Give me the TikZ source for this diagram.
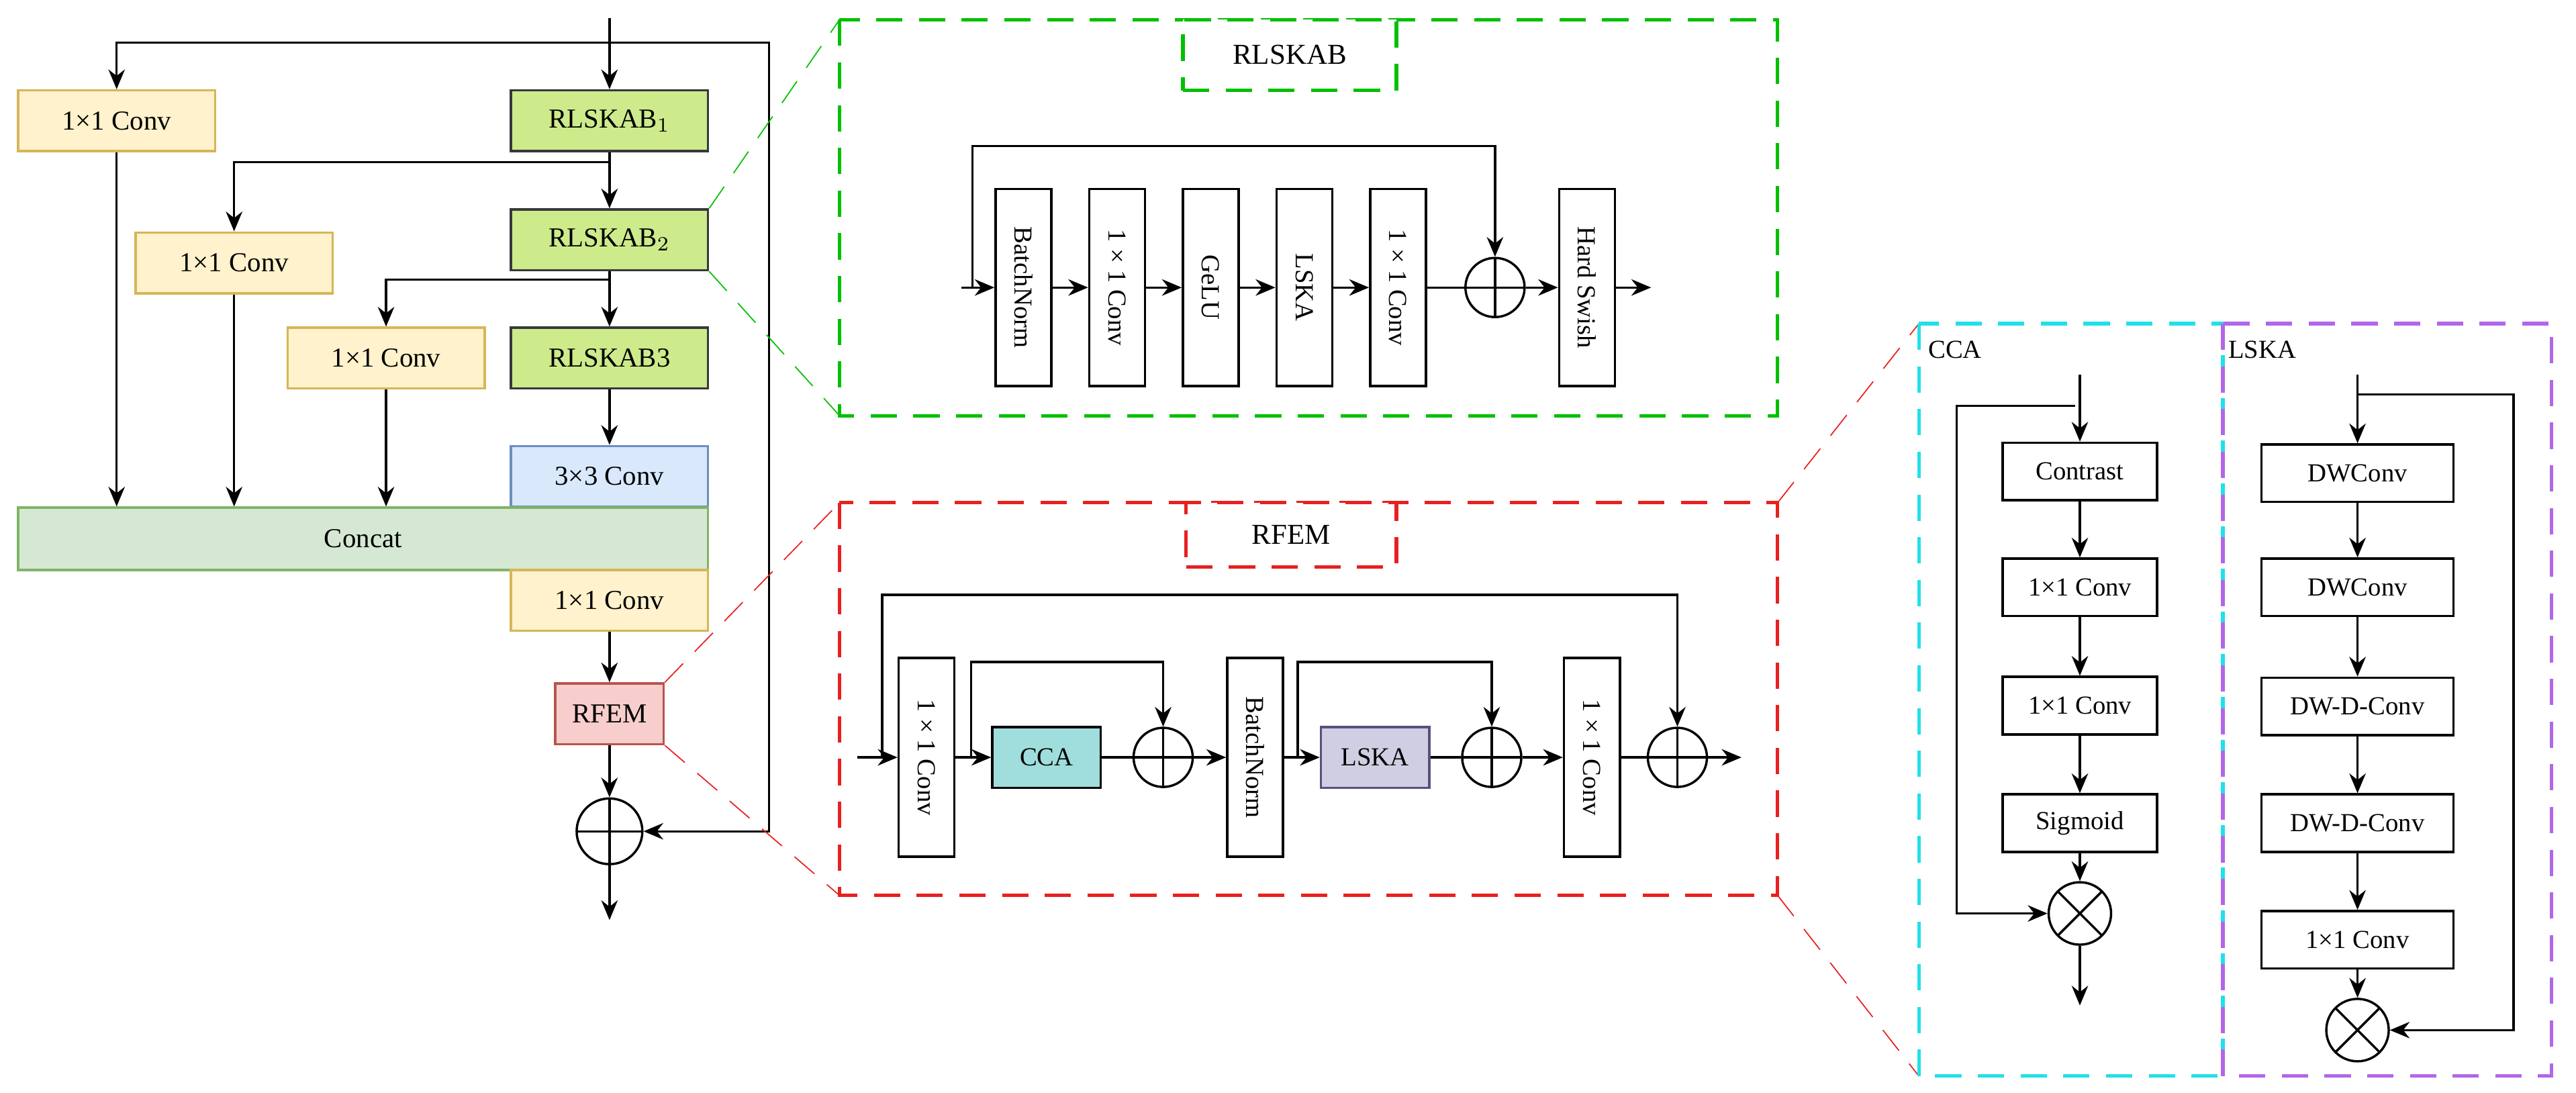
\documentclass[tikz,border=0pt]{standalone}
\usepackage{fontspec}
\setmainfont{Liberation Serif}
\usetikzlibrary{arrows.meta}
\definecolor{yfill}{HTML}{FFF2CC}\definecolor{ydraw}{HTML}{D6B656}
\definecolor{gfill}{HTML}{CDEB8B}\definecolor{gdraw}{HTML}{36393D}
\definecolor{bfill}{HTML}{DAE8FC}\definecolor{bdraw}{HTML}{6C8EBF}
\definecolor{cfill}{HTML}{D5E8D4}\definecolor{cdraw}{HTML}{82B366}
\definecolor{rfill}{HTML}{F8CECC}\definecolor{rdraw}{HTML}{B85450}
\definecolor{tfill}{HTML}{A0DDDD}\definecolor{pfill}{HTML}{D0CEE2}\definecolor{pdraw}{HTML}{56517E}
\definecolor{dgreen}{HTML}{00C000}\definecolor{dred}{HTML}{E82020}
\definecolor{dcyan}{HTML}{20E0E8}\definecolor{dpurple}{HTML}{B266E8}
\tikzset{%
  >={Stealth[width=2mm,length=2.4mm]},
  % Specifications for style of nodes:
        base/.style = {rectangle, draw=black, thick, inner sep=1pt,
                       text centered, font=\fontsize{9}{10}\selectfont},
       wide/.style = {base, minimum width=2.4cm, minimum height=0.74cm, font=\fontsize{9.5}{11}\selectfont},
     yconv/.style = {wide, fill=yfill, draw=ydraw},
    rlskab/.style = {wide, fill=gfill, draw=gdraw},
     vbox/.style = {base, minimum width=0.68cm, minimum height=2.4cm},
     vtext/.style = {rotate=-90, font=\fontsize{9}{10}\selectfont},
      cbox/.style = {base, minimum width=1.88cm, minimum height=0.7cm},
      lbox/.style = {base, minimum width=2.34cm, minimum height=0.7cm},
     addop/.style = {circle, draw, thick, minimum size=0.72cm, inner sep=0pt,
       path picture={\draw (path picture bounding box.north) -- (path picture bounding box.south)
                     (path picture bounding box.west) -- (path picture bounding box.east);}},
     mulop/.style = {circle, draw, thick, minimum size=0.76cm, inner sep=0pt,
       path picture={\draw (path picture bounding box.north west) -- (path picture bounding box.south east)
                     (path picture bounding box.south west) -- (path picture bounding box.north east);}},
     panel/.style = {very thick, dash pattern=on 0.32cm off 0.2cm},
}
\begin{document}
\begin{tikzpicture}[x=0.02cm, y=-0.02cm, thick]
\useasboundingbox (0,0) rectangle (1568,665);
% left branch
\coordinate (in) at (371,11);
\coordinate (sk) at (371,26);
\coordinate (skr) at (468,26);
\node (conva) [yconv] at (71,73.5) {1×1 Conv};
\node (rlsa) [rlskab] at (371,73.5) {RLSKAB$_1$};
\node (rlsb) [rlskab] at (371,146) {RLSKAB$_2$};
\node (convb) [yconv] at (142.5,160) {1×1 Conv};
\node (convc) [yconv] at (235,218) {1×1 Conv};
\node (rlsc) [rlskab] at (371,218) {RLSKAB3};
\node (conv33) [wide, fill=bfill, draw=bdraw] at (371,290) {3×3 Conv};
\node (concat) [base, fill=cfill, draw=cdraw, minimum width=8.4cm, minimum height=0.76cm, font=\fontsize{9.5}{11}\selectfont] at (221,328) {Concat};
\node (convd) [yconv] at (371,365.5) {1×1 Conv};
\node (rfem) [base, fill=rfill, draw=rdraw, minimum width=1.32cm, minimum height=0.74cm, font=\fontsize{9.5}{11}\selectfont] at (371,434.5) {RFEM};
\node (addm) [addop, minimum size=0.8cm] at (371,506) {};
\coordinate (out) at (371,560);
\draw[->] (in) -- (rlsa);
\draw[->] (sk) -| (conva);
\draw[->] (sk) -- (skr) |- (addm);
\draw[->] (rlsa) -- (rlsb);
\draw[->] ([yshift=-0.12cm]rlsa.south) -| (convb);
\draw[->] (rlsb) -- (rlsc);
\draw[->] ([yshift=-0.1cm]rlsb.south) -| (convc);
\draw[->] (rlsc) -- (conv33);
\draw[->] (conva) -- (conva |- concat.north);
\draw[->] (convb) -- (convb |- concat.north);
\draw[->] (convc) -- (convc |- concat.north);
\draw[->] (convd) -- (rfem);
\draw[->] (rfem) -- (addm);
\draw[->] (addm) -- (out);
% RLSKAB panel
\draw[panel, dgreen] (511,12) rectangle (1082,253);
\node (tra) [base, draw=dgreen, panel, fill=white, minimum width=2.6cm, minimum height=0.86cm, font=\fontsize{10}{12}\selectfont] at (785,33.5) {RLSKAB};
\draw[panel, dgreen, thin] (rlsb.north east) -- (511,12) (rlsb.south east) -- (511,253);
\coordinate (ra) at (585,175);
\coordinate (rs) at (592,175);
\node (bn) [vbox] at (623,175) {}; \node[vtext] at (bn) {BatchNorm};
\node (ca) [vbox] at (680,175) {}; \node[vtext] at (ca) {1 × 1 Conv};
\node (ge) [vbox] at (737,175) {}; \node[vtext] at (ge) {GeLU};
\node (ls) [vbox] at (794,175) {}; \node[vtext] at (ls) {LSKA};
\node (cb) [vbox] at (851,175) {}; \node[vtext] at (cb) {1 × 1 Conv};
\node (ra1) [addop] at (910,175) {};
\node (hs) [vbox] at (966,175) {}; \node[vtext] at (hs) {Hard Swish};
\coordinate (rout) at (1005,175);
\draw[->] (ra) -- (bn);
\draw[->] (bn) -- (ca);
\draw[->] (ca) -- (ge);
\draw[->] (ge) -- (ls);
\draw[->] (ls) -- (cb);
\draw (cb) -- (ra1);
\draw[->] (ra1) -- (hs);
\draw[->] (hs) -- (rout);
\draw[->] (rs) -- (592,89) -| (ra1);
% RFEM panel
\draw[panel, dred] (511,306) rectangle (1082,545);
\node (trb) [base, draw=dred, panel, fill=white, minimum width=2.56cm, minimum height=0.78cm, font=\fontsize{10}{12}\selectfont] at (786,325.5) {RFEM};
\draw[panel, dred, thin] (rfem.north east) -- (511,306) (rfem.south east) -- (511,545);
\draw[panel, dred, thin] (1082,306) -- (1168,197) (1082,545) -- (1168,655);
\coordinate (fa) at (522,461);
\node (fc1) [vbox, minimum height=2.42cm] at (564,461) {}; \node[vtext] at (fc1) {1 × 1 Conv};
\node (cca) [base, fill=tfill, minimum width=1.32cm, minimum height=0.74cm] at (637,461) {CCA};
\node (fa1) [addop] at (708,461) {};
\node (fbn) [vbox, minimum height=2.42cm] at (764,461) {}; \node[vtext] at (fbn) {BatchNorm};
\node (lska) [base, fill=pfill, draw=pdraw, minimum width=1.32cm, minimum height=0.74cm] at (837,461) {LSKA};
\node (fa2) [addop] at (908,461) {};
\node (fc2) [vbox, minimum height=2.42cm] at (969,461) {}; \node[vtext] at (fc2) {1 × 1 Conv};
\node (fa3) [addop] at (1021,461) {};
\coordinate (fout) at (1060,461);
\draw[->] (fa) -- (fc1);
\draw[->] (fc1) -- (cca);
\draw (cca) -- (fa1);
\draw[->] (fa1) -- (fbn);
\draw[->] (fbn) -- (lska);
\draw (lska) -- (fa2);
\draw[->] (fa2) -- (fc2);
\draw (fc2) -- (fa3);
\draw[->] (fa3) -- (fout);
\draw[->] (537,461) -- (537,362) -| (fa3);
\draw[->] (591,461) -- (591,403) -| (fa1);
\draw[->] (790,461) -- (790,403) -| (fa2);
% CCA panel
\draw[panel, dcyan] (1168,197) rectangle (1353,655);
\node (tcca) [font=\fontsize{9}{10}\selectfont] at (1190,213) {CCA};
\coordinate (cin) at (1266,228);
\node (cst) [cbox] at (1266,287) {Contrast};
\node (cc1) [cbox] at (1266,357.5) {1×1 Conv};
\node (cc2) [cbox] at (1266,429.5) {1×1 Conv};
\node (sig) [cbox] at (1266,501) {Sigmoid};
\node (cm) [mulop] at (1266,556) {};
\coordinate (cout) at (1266,612);
\draw[->] (cin) -- (cst);
\draw[->] (cst) -- (cc1);
\draw[->] (cc1) -- (cc2);
\draw[->] (cc2) -- (sig);
\draw[->] (sig) -- (cm);
\draw[->] (cm) -- (cout);
\draw[->] (1263,247) -- (1191,247) |- (cm);
% LSKA panel
\draw[panel, dpurple] (1353,197) rectangle (1553,655);
\node (tlska) [font=\fontsize{9}{10}\selectfont] at (1377,213) {LSKA};
\coordinate (lin) at (1435,228);
\node (dw1) [lbox] at (1435,288) {DWConv};
\node (dw2) [lbox] at (1435,357.5) {DWConv};
\node (dd1) [lbox] at (1435,430) {DW-D-Conv};
\node (dd2) [lbox] at (1435,501) {DW-D-Conv};
\node (lc) [lbox] at (1435,572) {1×1 Conv};
\node (lm) [mulop] at (1435,627) {};
\draw[->] (lin) -- (dw1);
\draw[->] (dw1) -- (dw2);
\draw[->] (dw2) -- (dd1);
\draw[->] (dd1) -- (dd2);
\draw[->] (dd2) -- (lc);
\draw[->] (lc) -- (lm);
\draw[->] (1435,240) -- (1530,240) |- (lm);
\end{tikzpicture}
\end{document}
